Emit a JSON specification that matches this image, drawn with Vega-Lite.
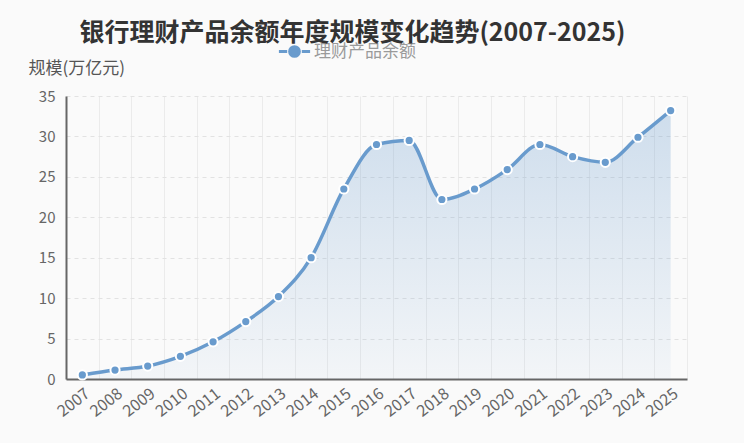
{
  "$schema": "https://vega.github.io/schema/vega-lite/v6.json",
  "width": 621,
  "height": 283,
  "autosize": "none",
  "padding": {"left": 66, "top": 96, "right": 57, "bottom": 64},
  "background": "#fafafa",
  "title": {
    "text": "银行理财产品余额年度规模变化趋势(2007-2025)",
    "anchor": "middle",
    "frame": "group",
    "fontSize": 25,
    "fontWeight": "bold",
    "font": "Noto Sans CJK SC",
    "color": "#333333",
    "dx": -24,
    "offset": -6
  },
  "config": {
    "view": {"stroke": null},
    "font": "Noto Sans CJK SC"
  },
  "data": {
    "values": [
      {"year": "2007", "value": 0.5, "series": "理财产品余额"},
      {"year": "2008", "value": 1.1, "series": "理财产品余额"},
      {"year": "2009", "value": 1.6, "series": "理财产品余额"},
      {"year": "2010", "value": 2.8, "series": "理财产品余额"},
      {"year": "2011", "value": 4.6, "series": "理财产品余额"},
      {"year": "2012", "value": 7.1, "series": "理财产品余额"},
      {"year": "2013", "value": 10.2, "series": "理财产品余额"},
      {"year": "2014", "value": 15.0, "series": "理财产品余额"},
      {"year": "2015", "value": 23.5, "series": "理财产品余额"},
      {"year": "2016", "value": 29.0, "series": "理财产品余额"},
      {"year": "2017", "value": 29.5, "series": "理财产品余额"},
      {"year": "2018", "value": 22.2, "series": "理财产品余额"},
      {"year": "2019", "value": 23.5, "series": "理财产品余额"},
      {"year": "2020", "value": 25.9, "series": "理财产品余额"},
      {"year": "2021", "value": 29.0, "series": "理财产品余额"},
      {"year": "2022", "value": 27.5, "series": "理财产品余额"},
      {"year": "2023", "value": 26.8, "series": "理财产品余额"},
      {"year": "2024", "value": 29.9, "series": "理财产品余额"},
      {"year": "2025", "value": 33.2, "series": "理财产品余额"}
    ]
  },
  "encoding": {
    "x": {
      "field": "year",
      "type": "ordinal",
      "scale": {"type": "band", "paddingInner": 0, "paddingOuter": 0},
      "axis": {
        "title": null,
        "domain": true,
        "domainColor": "#666666",
        "domainWidth": 2,
        "ticks": false,
        "grid": true,
        "gridColor": "#ebebeb",
        "gridWidth": 1,
        "tickBand": "extent",
        "labelAngle": -38,
        "labelAlign": "right",
        "labelBaseline": "top",
        "labelColor": "#666666",
        "labelFontSize": 16,
        "labelPadding": 6,
        "labelDx": -9
      }
    },
    "y": {
      "field": "value",
      "type": "quantitative",
      "scale": {"domain": [0, 35], "nice": false},
      "axis": {
        "title": "规模(万亿元)",
        "titleAngle": 0,
        "titleAlign": "left",
        "titleBaseline": "middle",
        "titleX": -38,
        "titleY": -28,
        "titleFontSize": 17,
        "titleFontWeight": "normal",
        "titleColor": "#555555",
        "values": [0, 5, 10, 15, 20, 25, 30, 35],
        "domain": true,
        "domainColor": "#666666",
        "domainWidth": 2,
        "ticks": false,
        "grid": true,
        "gridColor": "#e2e2e2",
        "gridDash": [4, 4],
        "labelColor": "#666666",
        "labelFontSize": 15,
        "labelPadding": 11
      }
    }
  },
  "layer": [
    {
      "mark": {
        "type": "area",
        "interpolate": "monotone",
        "color": {
          "gradient": "linear",
          "x1": 0, "y1": 0, "x2": 0, "y2": 1,
          "stops": [
            {"offset": 0, "color": "rgba(105,155,205,0.30)"},
            {"offset": 1, "color": "rgba(105,155,205,0.05)"}
          ]
        }
      }
    },
    {
      "mark": {"type": "line", "interpolate": "monotone", "strokeWidth": 3.5},
      "encoding": {
        "color": {
          "field": "series",
          "type": "nominal",
          "scale": {"range": ["#699bcd"]},
          "legend": {
            "title": null,
            "orient": "none",
            "legendX": 217,
            "legendY": -56,
            "symbolType": "M-1.6,0L-0.75,0M0.75,0L1.6,0M-0.5,0A0.5,0.5 0 1,0 0.5,0A0.5,0.5 0 1,0 -0.5,0",
            "symbolSize": 380,
            "symbolStrokeWidth": 3,
            "symbolFillColor": "#699bcd",
            "symbolStrokeColor": "#699bcd",
            "labelFontSize": 17,
            "labelColor": "#9a9a9a",
            "labelOffset": 8
          }
        }
      }
    },
    {
      "mark": {"type": "point", "filled": true, "size": 85, "stroke": "white", "strokeWidth": 2, "opacity": 1},
      "encoding": {
        "color": {"field": "series", "type": "nominal", "scale": {"range": ["#699bcd"]}}
      }
    }
  ]
}
